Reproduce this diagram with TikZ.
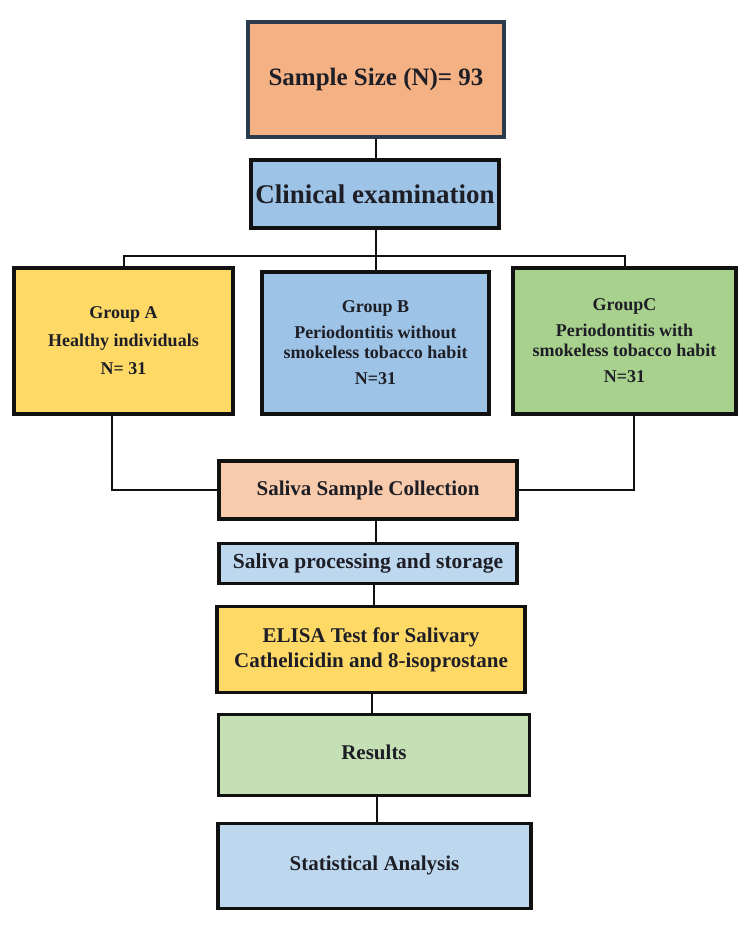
\documentclass[tikz,border=0pt]{standalone}
\usepackage{fontspec}
\setmainfont{Liberation Serif}
\usetikzlibrary{positioning}

\definecolor{txt}{HTML}{1E1E26}
\definecolor{edge}{HTML}{111111}
\definecolor{navyedge}{HTML}{2B3A4C}
\definecolor{peach}{HTML}{F4B183}
\definecolor{lightpeach}{HTML}{F8CBAD}
\definecolor{skyblue}{HTML}{9DC3E6}
\definecolor{paleblue}{HTML}{BDD7EE}
\definecolor{gold}{HTML}{FFD966}
\definecolor{leaf}{HTML}{A9D18E}
\definecolor{paleleaf}{HTML}{C5E0B4}

\tikzset{
  box/.style={draw=edge, line width=3.6pt, rectangle, align=center,
    text=txt, font=\bfseries, inner sep=2pt},
  link/.style={draw=edge, line width=2pt},
}

\begin{document}
\begin{tikzpicture}[x=1pt,y=-1pt]
  \useasboundingbox[fill=white] (0,0) rectangle (750,925);

  % top of the chart
  \node[box, draw=navyedge, fill=peach, minimum width=256, minimum height=115,
        font=\fontsize{25}{30}\selectfont\bfseries] (size) at (376,79.5)
        {Sample Size (N)= 93};
  \node[box, fill=skyblue, minimum width=248, minimum height=68,
        font=\fontsize{27}{32}\selectfont\bfseries] (clin) at (375,194)
        {Clinical examination};

  % the three groups
  \node[box, fill=gold, minimum width=219, minimum height=146,
        font=\fontsize{18}{20}\selectfont\bfseries] (ga) at (123.5,341)
        {Group A\\[8pt]Healthy individuals\\[8pt]N= 31};
  \node[box, fill=skyblue, minimum width=227, minimum height=142,
        font=\fontsize{18}{20}\selectfont\bfseries] (gb) at (375.5,343)
        {Group B\\[6pt]Periodontitis without\\smokeless tobacco habit\\[6pt]N=31};
  \node[box, fill=leaf, minimum width=223, minimum height=146,
        font=\fontsize{18}{20}\selectfont\bfseries] (gc) at (624.5,341)
        {GroupC\\[6pt]Periodontitis with\\smokeless tobacco habit\\[6pt]N=31};

  % laboratory steps
  \node[box, fill=lightpeach, minimum width=298, minimum height=58,
        font=\fontsize{21}{25}\selectfont\bfseries] (ssc) at (368,490)
        {Saliva Sample Collection};
  \node[box, fill=paleblue, minimum width=298, minimum height=40,
        font=\fontsize{21.5}{25}\selectfont\bfseries] (spr) at (368,563.5)
        {Saliva processing and storage};
  \node[box, fill=gold, minimum width=308, minimum height=86,
        font=\fontsize{21}{25}\selectfont\bfseries] (elisa) at (371,649.5)
        {ELISA Test for Salivary\\Cathelicidin and 8-isoprostane};
  \node[box, fill=paleleaf, minimum width=311, minimum height=81,
        font=\fontsize{21}{25}\selectfont\bfseries] (res) at (374,755)
        {\raisebox{6pt}{Results}};
  \node[box, fill=paleblue, minimum width=313, minimum height=85,
        font=\fontsize{21}{25}\selectfont\bfseries] (stat) at (374.5,866)
        {\raisebox{5pt}{Statistical Analysis}};

  % connectors
  \coordinate (split) at (376,256);
  \draw[link] (size.south) -- (size.south |- clin.north);
  \draw[link] (clin.south -| split) -- (split);
  \draw[link] (ga.north) |- (split) -| (gc.north);
  \draw[link] (split) -- (split |- gb.north);
  \draw[link] ([xshift=-12pt]ga.south) |- (ssc.west);
  \draw[link] ([xshift=9pt]gc.south) |- (ssc.east);
  \draw[link] (ssc.south -| 376,0) -- (376,0 |- spr.north);
  \draw[link] (spr.south -| 374,0) -- (374,0 |- elisa.north);
  \draw[link] (elisa.south -| 372,0) -- (372,0 |- res.north);
  \draw[link] (res.south -| 377,0) -- (377,0 |- stat.north);
\end{tikzpicture}
\end{document}
